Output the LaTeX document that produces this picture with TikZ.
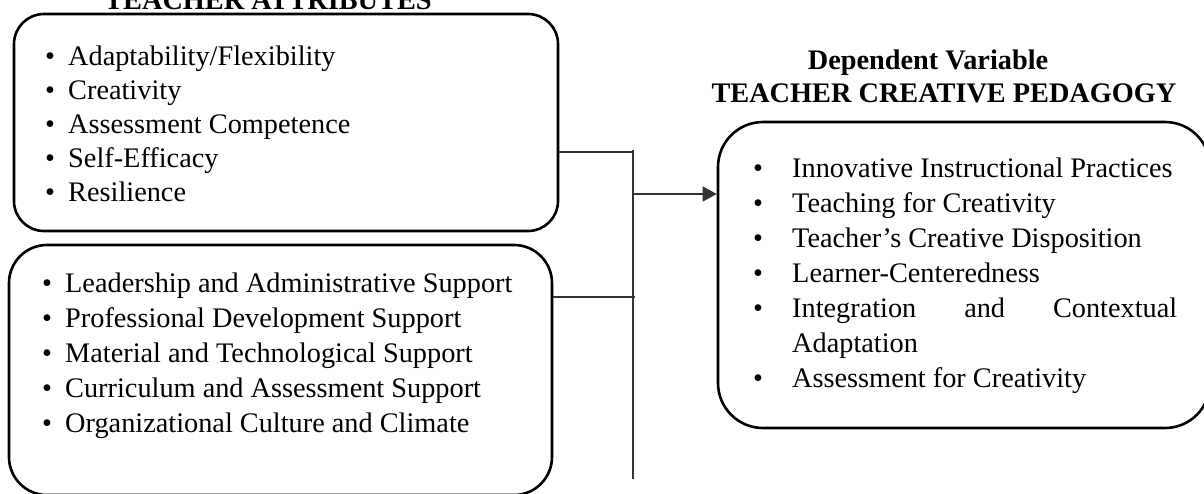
\documentclass[tikz,border=0pt]{standalone}
\usepackage{fontspec}
\setmainfont{Liberation Serif}
\usetikzlibrary{arrows.meta}
\newcommand{\itemfont}{\fontsize{28.3}{35}\selectfont}
\tikzset{
  box/.style={draw=black, line width=2.6pt, inner sep=0pt},
  conn/.style={draw=black!80, line width=1.3pt},
  item/.style={anchor=base west, inner sep=0pt, font=\itemfont},
  bul/.style={anchor=base, inner sep=0pt, font=\itemfont},
  ttl/.style={anchor=base, inner sep=0pt, font=\itemfont\bfseries},
}
\begin{document}
\begin{tikzpicture}[x=1pt, y=-1pt]
\clip (0,0) rectangle (1204,493);
\useasboundingbox (0,0) rectangle (1204,493);
% titles
\node[ttl] (t1) at (268,9) {TEACHER ATTRIBUTES};
\node[ttl] (t2) at (928,69) {Dependent Variable};
\node[ttl] (t3) at (944,102) {TEACHER CREATIVE PEDAGOGY};
% boxes
\node[box, rounded corners=30pt, minimum width=544pt, minimum height=217pt] (boxA) at (286,122.5) {};
\node[box, rounded corners=38pt, minimum width=543pt, minimum height=250pt] (boxB) at (280.5,370) {};
\node[box, rounded corners=45pt, minimum width=492pt, minimum height=306pt] (boxC) at (964,275) {};
% box A items
\foreach \t [count=\i from 0] in {Adaptability/Flexibility, Creativity, Assessment Competence, Self-Efficacy, Resilience}{
  \node[bul] (ab\i) at (50,{65+34.2*\i}) {•};
  \node[item] (at\i) at (68,{65+34.2*\i}) {\t};
}
% box B items
\foreach \t [count=\i from 0] in {Leadership and Administrative Support, Professional Development Support, Material and Technological Support, Curriculum and Assessment Support, Organizational Culture and Climate}{
  \node[bul] (bb\i) at (47,{292+35*\i}) {•};
  \node[item] (bt\i) at (65,{292+35*\i}) {\t};
}
% box C items
\foreach \t [count=\i from 0] in {Innovative Instructional Practices, Teaching for Creativity, Teacher’s Creative Disposition, Learner-Centeredness}{
  \node[bul] (cb\i) at (758,{177+35*\i}) {•};
  \node[item] (ct\i) at (792,{177+35*\i}) {\t};
}
\node[bul] (cb4) at (758,317) {•};
\node[item, text width=385pt] (ct4) at (792,317) {Integration\hfill and\hfill Contextual};
\node[item] (ct5) at (792,352) {Adaptation};
\node[bul] (cb6) at (758,387) {•};
\node[item] (ct6) at (792,387) {Assessment for Creativity};
% connectors
\coordinate (vtop) at (633,150);
\coordinate (vbot) at (633,479);
\coordinate (j1) at (633,152);
\coordinate (j2) at (635,297);
\coordinate (ja) at (633,194);
\draw[conn] (vtop) -- (vbot);
\draw[conn] (j1 -| boxA.east) -- (j1);
\draw[conn] (j2 -| boxB.east) -- (j2);
\draw[conn, -{Triangle[length=14pt, width=15pt]}] (ja) -- (ja -| boxC.west);
\end{tikzpicture}
\end{document}
